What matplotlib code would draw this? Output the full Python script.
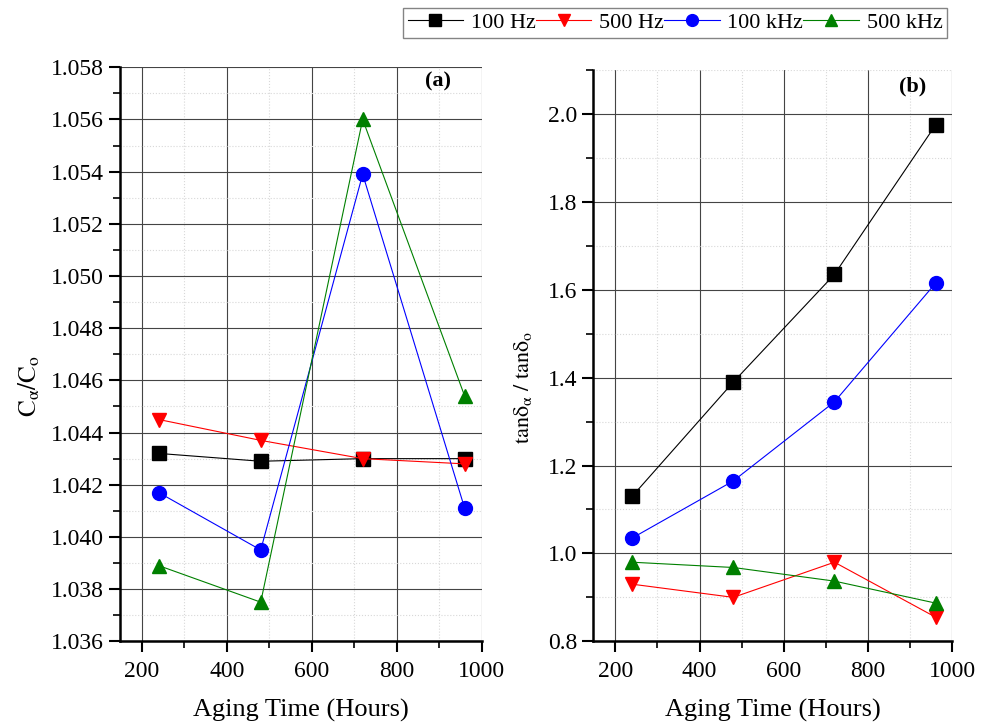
import matplotlib
matplotlib.use("Agg")
from matplotlib import pyplot as plt
from matplotlib.ticker import MultipleLocator

# aging time (hours)
hours = [240, 480, 720, 960]

# (a) capacitance ratio C_alpha / C_o
cap_100hz = [1.0432, 1.0429, 1.0430, 1.0430]
cap_500hz = [1.0445, 1.0437, 1.0430, 1.0428]
cap_100khz = [1.0417, 1.0395, 1.0539, 1.0411]
cap_500khz = [1.0389, 1.0375, 1.0560, 1.0454]

# (b) loss ratio tan delta_alpha / tan delta_o
tan_100hz = [1.13, 1.39, 1.635, 1.975]
tan_500hz = [0.93, 0.90, 0.98, 0.855]
tan_100khz = [1.035, 1.165, 1.345, 1.615]
tan_500khz = [0.98, 0.968, 0.937, 0.887]

labels = ["100 Hz", "500 Hz", "100 kHz", "500 kHz"]
colors = ["black", "red", "blue", "green"]
markers = ["s", "v", "o", "^"]

plt.rcParams["font.family"] = ["Liberation Serif", "DejaVu Serif"]
plt.rcParams["mathtext.fontset"] = "stix"

fig = plt.figure(figsize=(9.89, 7.23), dpi=100)
ax1 = fig.add_axes([0.121, 0.113, 0.366, 0.794])
ax2 = fig.add_axes([0.600, 0.113, 0.363, 0.790])


def style(ax, ylim, major, minor, fmt):
    ax.set_xlim(148, 1000)
    ax.set_ylim(*ylim)
    ax.xaxis.set_major_locator(MultipleLocator(200))
    ax.xaxis.set_minor_locator(MultipleLocator(100))
    ax.yaxis.set_major_locator(MultipleLocator(major))
    ax.yaxis.set_minor_locator(MultipleLocator(minor))
    ax.yaxis.set_major_formatter(fmt)
    ax.grid(True, which="major", color="#444444", linewidth=0.8)
    ax.grid(True, which="minor", color="#d8d8d8", linestyle=":", linewidth=0.8)
    ax.set_axisbelow(True)
    for s in ["top", "right"]:
        ax.spines[s].set_visible(False)
    for s in ["left", "bottom"]:
        ax.spines[s].set_linewidth(1.8)
    ax.tick_params(which="major", direction="out", length=8, width=1.5, labelsize=17)
    ax.tick_params(axis="x", which="major", pad=6)
    ax.tick_params(which="minor", direction="out", length=5, width=1.2)
    ax.set_xlabel("Aging Time (Hours)", fontsize=19, labelpad=12)


style(ax1, (1.036, 1.058), 0.002, 0.001, "{x:.3f}")
style(ax2, (0.8, 2.1), 0.2, 0.1, "{x:.1f}")

for ys, c, m, lab in zip([cap_100hz, cap_500hz, cap_100khz, cap_500khz], colors, markers, labels):
    ax1.plot(hours, ys, color=c, marker=m, markersize=10, linewidth=0.8, label=lab, clip_on=False)
for ys, c, m in zip([tan_100hz, tan_500hz, tan_100khz, tan_500khz], colors, markers):
    ax2.plot(hours, ys, color=c, marker=m, markersize=10, linewidth=0.8, clip_on=False)

ax1.set_ylabel(r"$\mathrm{C_{\alpha}/C_o}$", fontsize=18)
ax2.set_ylabel(r"$\mathrm{tan\delta_{\alpha}\ /\ tan\delta_o}$", fontsize=16)
ax1.yaxis.set_label_coords(-0.215, 0.445)
ax2.yaxis.set_label_coords(-0.165, 0.445)

ax1.text(0.88, 0.975, "(a)", transform=ax1.transAxes, ha="center", va="center",
         fontsize=16, fontweight="bold")
ax2.text(0.888, 0.972, "(b)", transform=ax2.transAxes, ha="center", va="center",
         fontsize=16, fontweight="bold")

leg = fig.legend(loc="upper right", bbox_to_anchor=(0.962, 0.995), ncol=4,
                 fontsize=16, frameon=True, fancybox=False, handlelength=2.5,
                 handletextpad=0.35, columnspacing=0.0, borderpad=0.2,
                 borderaxespad=0.2, markerscale=0.85)
leg.get_frame().set_edgecolor("#666666")
leg.get_frame().set_linewidth(1.0)

fig.savefig("out.png", dpi=100)
